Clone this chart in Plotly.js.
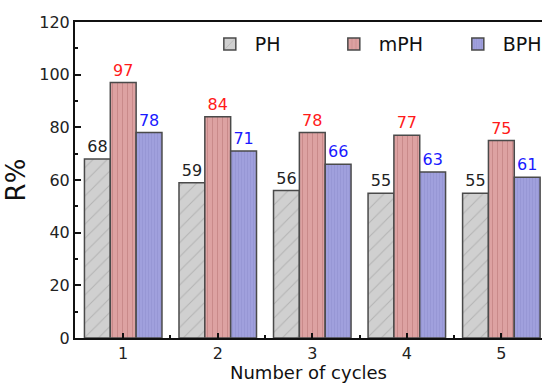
<!DOCTYPE html>
<html><head><meta charset="utf-8">
<script src="https://cdn.plot.ly/plotly-3.0.1.min.js"></script>
<style>html,body{margin:0;padding:0;background:#fff}</style>
</head><body><div id="chart" style="width:542px;height:383px"></div>
<script>
const cycles = [1, 2, 3, 4, 5];
const phValues = [68, 59, 56, 55, 55];
const mphValues = [97, 84, 78, 77, 75];
const bphValues = [78, 71, 66, 63, 61];
const seriesNames = ['PH', 'mPH', 'BPH'];

const font = 'DejaVu Sans, Verdana, sans-serif';
function bar(name, y, pat, txtColor) {
  return {
    type: 'bar', name: name, x: cycles, y: y,
    text: y.map(String), textposition: 'outside', cliponaxis: false,
    textfont: {family: font, size: 16, color: txtColor},
    marker: {color: pat.bgcolor, line: {color: '#4a4a4a', width: 1.5}, pattern: pat}
  };
}
const data = [
  bar(seriesNames[0], phValues, {shape: '/', bgcolor: '#d0d0d0', fgcolor: '#b4b4b4', size: 10, solidity: 0.1, fillmode: 'replace'}, '#222'),
  bar(seriesNames[1], mphValues, {shape: '|', bgcolor: '#dda2a2', fgcolor: '#c98a8a', size: 5, solidity: 0.2, fillmode: 'replace'}, '#ff1a1a'),
  bar(seriesNames[2], bphValues, {shape: '|', bgcolor: '#a0a0dd', fgcolor: '#9696d4', size: 3, solidity: 0.3, fillmode: 'replace'}, '#1a1aff')
];
const layout = {
  width: 542, height: 383,
  margin: {l: 75, r: 0, t: 22, b: 45, autoexpand: false},
  paper_bgcolor: '#fff', plot_bgcolor: '#fff',
  barmode: 'group', bargap: 0.18, bargroupgap: 0,
  font: {family: font, color: '#222'},
  showlegend: true,
  legend: {orientation: 'h', x: 0.278, xanchor: 'left', y: 0.99, yanchor: 'top',
    font: {family: font, size: 19, color: '#111'}, bgcolor: 'rgba(0,0,0,0)',
    entrywidth: 69, entrywidthmode: 'pixels', itemwidth: 40},
  xaxis: {
    range: [0.49, 5.43], tickvals: cycles, ticks: 'inside', ticklen: 5, tickwidth: 2, tickcolor: '#111',
    minor: {tickvals: [1.5, 2.5, 3.5, 4.5], ticks: 'inside', ticklen: 3, tickwidth: 2, tickcolor: '#111'},
    showline: true, linecolor: '#111', linewidth: 2, mirror: true, showgrid: false, zeroline: false,
    tickfont: {family: font, size: 16, color: '#222'},
    title: {text: 'Number of cycles', font: {family: font, size: 18, color: '#111'}, standoff: 2}
  },
  yaxis: {
    range: [0, 120], dtick: 20, ticks: 'inside', ticklen: 6, tickwidth: 2, tickcolor: '#111',
    minor: {dtick: 10, ticks: 'inside', ticklen: 3, tickwidth: 2, tickcolor: '#111'},
    showline: true, linecolor: '#111', linewidth: 2, showgrid: false, zeroline: false,
    tickfont: {family: font, size: 16, color: '#222'},
    title: {text: 'R%', font: {family: font, size: 26, color: '#111'}, standoff: 6}
  }
};
Plotly.newPlot('chart', data, layout, {staticPlot: true, displayModeBar: false});
</script></body></html>
